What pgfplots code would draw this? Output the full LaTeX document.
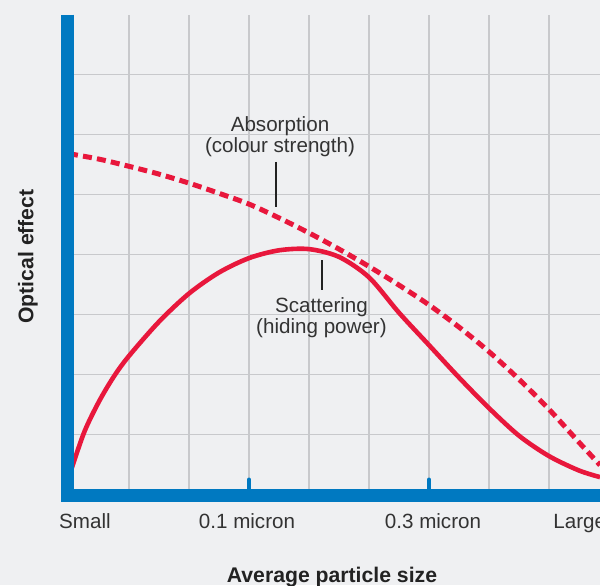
\documentclass[border=0pt]{standalone}
\usepackage{fontspec}
\setmainfont{Liberation Sans}
\usepackage{pgfplots}
\pgfplotsset{compat=1.18}
\definecolor{bg}{HTML}{EFF0F2}
\definecolor{gridc}{HTML}{C8C9CC}
\definecolor{axblue}{HTML}{0079C1}
\definecolor{cred}{HTML}{E8173C}
\definecolor{txt}{HTML}{333333}
\definecolor{txtb}{HTML}{222222}
\begin{document}
\begin{tikzpicture}
\clip (0,0) rectangle (300pt,292.5pt);
\fill[bg] (0,0) rectangle (300pt,292.5pt);
\begin{axis}[
  at={(34.5pt,45.25pt)}, anchor=south west,
  scale only axis, width=265.5pt, height=240pt,
  xmin=0, xmax=8.85, ymin=0, ymax=8,
  axis line style={draw=none},
  xtick={1,...,8}, ytick={1,...,7},
  xticklabels={}, yticklabels={},
  major tick length=0pt,
  grid=major, grid style={gridc, line width=0.6pt},
  clip=false,
]
% Absorption (colour strength)
\addplot[cred, line width=2.5pt, smooth, dash pattern=on 4.5pt off 2.6pt] coordinates {
 (0.0,5.68) (0.5,5.59) (1.0,5.47) (1.5,5.34) (2.0,5.19) (2.5,5.02) (3.0,4.84)
 (3.5,4.61) (4.0,4.36) (4.5,4.09) (5.0,3.80) (5.5,3.49) (6.0,3.16) (6.5,2.79)
 (7.0,2.38) (7.5,1.92) (8.0,1.42) (8.5,0.87) (8.85,0.49)
};
% Scattering (hiding power)
\addplot[cred, line width=2.3pt, smooth] coordinates {
 (0.0,0.30) (0.25,1.03) (0.5,1.55) (0.75,1.97) (1.0,2.31) (1.5,2.88) (2.0,3.35)
 (2.5,3.70) (3.0,3.94) (3.5,4.07) (4.0,4.09) (4.5,3.96) (5.0,3.62)
 (5.5,3.03) (6.0,2.49) (6.5,1.95) (7.0,1.44) (7.5,0.98) (8.0,0.64) (8.5,0.40) (8.85,0.29)
};
\draw[axblue, line width=6.5pt, line join=miter] (axis cs:-0.025,8) -- (axis cs:-0.025,-0.01) -- (axis cs:9.2,-0.01);
\draw[axblue, line width=2pt, line cap=round] (axis cs:3,0) -- (axis cs:3,0.25);
\draw[axblue, line width=2pt, line cap=round] (axis cs:6,0) -- (axis cs:6,0.25);
\end{axis}
\begin{scope}[every node/.style={font=\fontsize{10.3}{12}\selectfont, text=txt, inner sep=0pt}]
\node[anchor=base] at (42.5pt,28.5pt) {Small};
\node[anchor=base] at (123.5pt,28.5pt) {0.1 micron};
\node[anchor=base] at (216.5pt,28.5pt) {0.3 micron};
\node[anchor=base west] at (276.5pt,28.5pt) {Large};
\node[anchor=base] at (140pt,226.5pt) {Absorption};
\node[anchor=base] at (140pt,216pt) {(colour strength)};
\node[anchor=base] at (160.75pt,136.5pt) {Scattering};
\node[anchor=base] at (160.75pt,126pt) {(hiding power)};
\end{scope}
\draw[txtb, line width=1.3pt] (138pt,211.5pt) -- (138pt,189pt);
\draw[txtb, line width=1.3pt] (161pt,162.5pt) -- (161pt,147.5pt);
\node[rotate=90, anchor=base, inner sep=0pt, font=\fontsize{10.6}{12}\selectfont\bfseries, text=txtb] at (16.75pt,164.25pt) {Optical effect};
\node[anchor=base, inner sep=0pt, font=\fontsize{10.6}{12}\selectfont\bfseries, text=txtb] at (166pt,1.2pt) {Average particle size};
\end{tikzpicture}
\end{document}
